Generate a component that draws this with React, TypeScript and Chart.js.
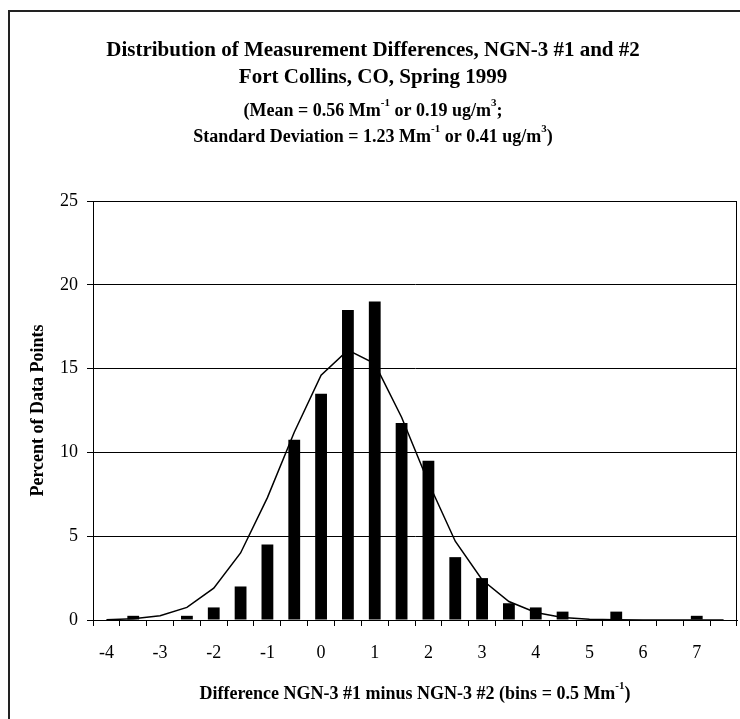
import React, { useEffect, useRef } from "react";
import { Chart, registerables } from "chart.js";

Chart.register(...registerables);

const binLabels = ["-4", "-3.5", "-3", "-2.5", "-2", "-1.5", "-1", "-0.5", "0", "0.5", "1", "1.5", "2", "2.5", "3", "3.5", "4", "4.5", "5", "5.5", "6", "6.5", "7", "7.5"];
const percentValues = [0, 0.25, 0, 0.25, 0.75, 2, 4.5, 10.75, 13.5, 18.5, 19, 11.75, 9.5, 3.75, 2.5, 1, 0.75, 0.5, 0, 0.5, 0, 0, 0.25, 0];
const normalCurve = [0.02, 0.07, 0.25, 0.75, 1.9, 4.0, 7.3, 11.2, 14.6, 16.1, 15.3, 12.1, 8.2, 4.7, 2.4, 1.1, 0.45, 0.15, 0.05, 0.01, 0, 0, 0, 0];
const yTicks = [0, 5, 10, 15, 20, 25];

type Seg = { t: string; sup?: boolean };

const titleLines: { segs: Seg[]; size: number; y: number }[] = [
  { segs: [{ t: "Distribution of Measurement Differences, NGN-3 #1 and #2" }], size: 21, y: 51 },
  { segs: [{ t: "Fort Collins, CO, Spring 1999" }], size: 21, y: 78 },
  { segs: [{ t: "(Mean = 0.56 Mm" }, { t: "-1", sup: true }, { t: " or 0.19 ug/m" }, { t: "3", sup: true }, { t: ";" }], size: 18, y: 111 },
  { segs: [{ t: "Standard Deviation = 1.23 Mm" }, { t: "-1", sup: true }, { t: " or 0.41 ug/m" }, { t: "3", sup: true }, { t: ")" }], size: 18, y: 137 },
];
const xTitle: Seg[] = [{ t: "Difference NGN-3 #1 minus NGN-3 #2 (bins = 0.5 Mm" }, { t: "-1", sup: true }, { t: ")" }];
const yTitle = "Percent of Data Points";

const FONT = "'Liberation Serif', 'Times New Roman', serif";

function drawSegs(ctx: CanvasRenderingContext2D, segs: Seg[], cx: number, cy: number, size: number) {
  const supSize = Math.round(size * 0.62);
  let total = 0;
  const widths = segs.map((s) => {
    ctx.font = `bold ${s.sup ? supSize : size}px ${FONT}`;
    const w = ctx.measureText(s.t).width;
    total += w;
    return w;
  });
  let x = cx - total / 2;
  ctx.textBaseline = "middle";
  ctx.textAlign = "left";
  segs.forEach((s, i) => {
    ctx.font = `bold ${s.sup ? supSize : size}px ${FONT}`;
    ctx.fillText(s.t, x, s.sup ? cy - size * 0.42 : cy);
    x += widths[i];
  });
}

const decorPlugin = {
  id: "decor",
  beforeDraw(chart: any) {
    const ctx = chart.ctx as CanvasRenderingContext2D;
    ctx.save();
    ctx.fillStyle = "#fff";
    ctx.fillRect(0, 0, chart.width, chart.height);
    ctx.strokeStyle = "#222";
    ctx.lineWidth = 2;
    ctx.beginPath();
    ctx.moveTo(9, chart.height);
    ctx.lineTo(9, 11);
    ctx.lineTo(chart.width, 11);
    ctx.stroke();
    ctx.restore();
  },
  afterDraw(chart: any) {
    const ctx = chart.ctx as CanvasRenderingContext2D;
    const a = chart.chartArea;
    ctx.save();
    ctx.strokeStyle = "#000";
    ctx.lineWidth = 1;
    ctx.beginPath();
    ctx.moveTo(a.left, a.top + 0.5);
    ctx.lineTo(a.right - 0.5, a.top + 0.5);
    ctx.lineTo(a.right - 0.5, a.bottom);
    ctx.stroke();
    ctx.fillStyle = "#000";
    titleLines.forEach((l) => drawSegs(ctx, l.segs, 373, l.y, l.size));
    drawSegs(ctx, xTitle, (a.left + a.right) / 2, 694, 18);
    ctx.translate(38, (a.top + a.bottom) / 2);
    ctx.rotate(-Math.PI / 2);
    ctx.font = `bold 18px ${FONT}`;
    ctx.textAlign = "center";
    ctx.textBaseline = "middle";
    ctx.fillText(yTitle, 0, 0);
    ctx.restore();
  },
};

export default function App() {
  const ref = useRef<HTMLCanvasElement>(null);
  useEffect(() => {
    if (!ref.current) return;
    const chart = new Chart(ref.current, {
      type: "bar",
      data: {
        labels: binLabels,
        datasets: [
          {
            type: "line" as any,
            data: normalCurve,
            borderColor: "#000",
            borderWidth: 1.5,
            pointRadius: 0,
            tension: 0,
            fill: false,
          } as any,
          {
            type: "bar",
            data: percentValues,
            backgroundColor: "#000",
            borderWidth: 0,
            barPercentage: 0.44,
            categoryPercentage: 1,
          },
        ],
      },
      options: {
        animation: false,
        responsive: true,
        maintainAspectRatio: false,
        layout: { padding: { left: 0, right: 3, top: 201, bottom: 0 } },
        plugins: { legend: { display: false }, tooltip: { enabled: false }, title: { display: false } },
        scales: {
          x: {
            offset: true,
            grid: { display: true, drawOnChartArea: false, drawTicks: true, tickLength: 6, color: "#000", offset: true },
            border: { display: true, color: "#000", width: 1 },
            ticks: {
              autoSkip: false,
              maxRotation: 0,
              minRotation: 0,
              padding: 16,
              color: "#000",
              font: { family: FONT, size: 18 },
              callback: (v: any, i: number) => (binLabels[i].includes(".") ? "" : binLabels[i]),
            },
            afterFit: (s: any) => {
              s.height = 99;
            },
          },
          y: {
            min: 0,
            max: 25,
            afterBuildTicks: (s: any) => {
              s.ticks = yTicks.map((v) => ({ value: v }));
            },
            grid: { color: "#000", lineWidth: 1, tickLength: 6 },
            border: { display: true, color: "#000", width: 1 },
            ticks: { padding: 9, color: "#000", font: { family: FONT, size: 18 } },
            afterFit: (s: any) => {
              s.width = 93;
            },
          },
        },
      },
      plugins: [decorPlugin],
    });
    return () => chart.destroy();
  }, []);
  return (
    <div style={{ position: "absolute", left: 0, top: 0, width: 740, height: 719 }}>
      <canvas ref={ref} />
    </div>
  );
}
